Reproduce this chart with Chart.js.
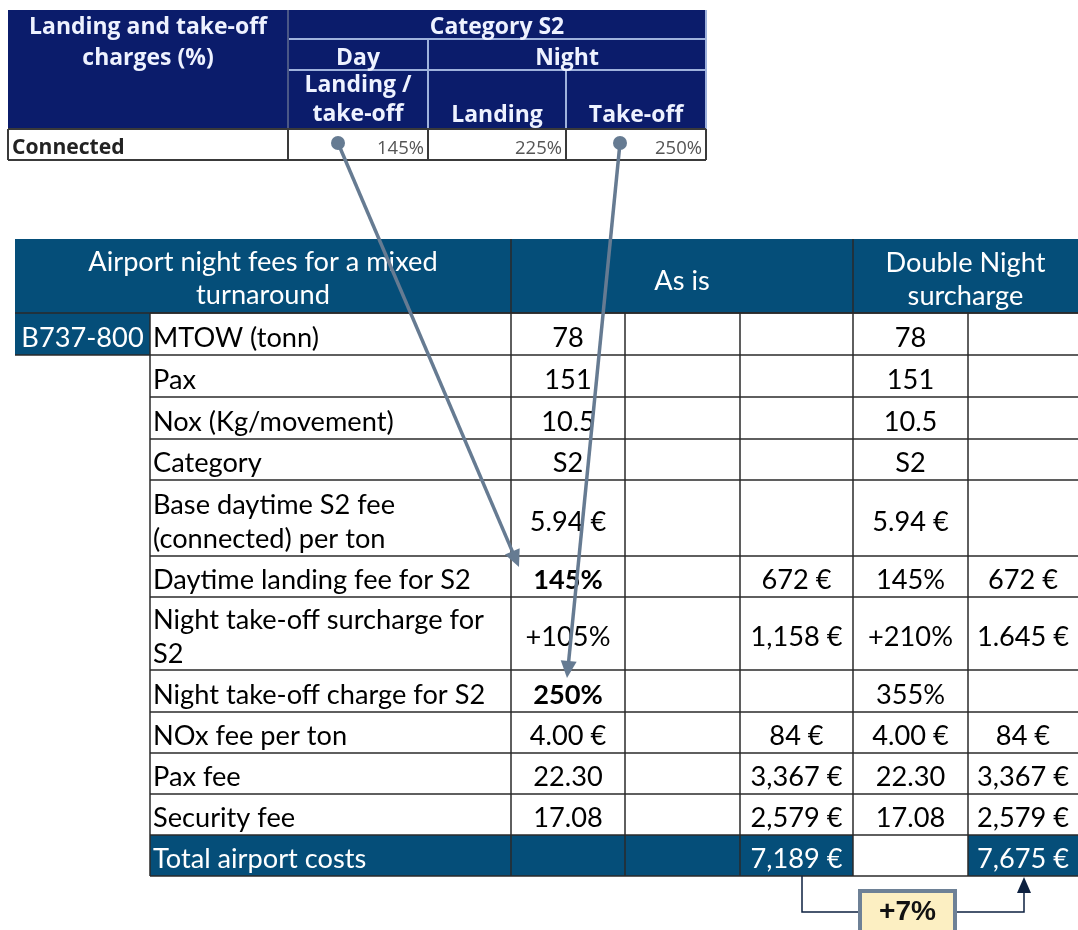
<!DOCTYPE html>
<html>
<head>
<meta charset="utf-8">
<title>Airport night fees for a mixed turnaround</title>
<script src="https://cdn.jsdelivr.net/npm/chart.js@4.4.1/dist/chart.umd.min.js"></script>
<style>
  html, body { margin: 0; padding: 0; background: #fff; }
  #wrap { width: 1078px; height: 930px; }
</style>
</head>
<body>
<div id="wrap"><canvas id="myChart" width="1078" height="930"></canvas></div>
<script>
// ---- data: small charge table ----
const chargeTitle = ['Landing and take-off', 'charges (%)'];
const chargeGroup = 'Category S2';
const chargePeriods = ['Day', 'Night'];
const chargeMovements = [['Landing /', 'take-off'], ['Landing'], ['Take-off']];
const chargeRowLabel = 'Connected';
const chargeValues = [145, 225, 250];

// ---- data: main table ----
const mainTitle = ['Airport night fees for a mixed', 'turnaround'];
const scenarios = [['As is'], ['Double Night', 'surcharge']];
const aircraft = 'B737-800';
const rowLabels = [
  ['MTOW (tonn)'],
  ['Pax'],
  ['Nox (Kg/movement)'],
  ['Category'],
  ['Base daytime S2 fee', '(connected) per ton'],
  ['Daytime landing fee for S2'],
  ['Night take-off surcharge for', 'S2'],
  ['Night take-off charge for S2'],
  ['NOx fee per ton'],
  ['Pax fee'],
  ['Security fee']
];
const asIsInputs   = ['78', '151', '10.5', 'S2', '5.94 €', '145%', '+105%', '250%', '4.00 €', '22.30', '17.08'];
const asIsCosts    = ['', '', '', '', '', '672 €', '1,158 €', '', '84 €', '3,367 €', '2,579 €'];
const doubleInputs = ['78', '151', '10.5', 'S2', '5.94 €', '145%', '+210%', '355%', '4.00 €', '22.30', '17.08'];
const doubleCosts  = ['', '', '', '', '', '672 €', '1.645 €', '', '84 €', '3,367 €', '2,579 €'];
const totalLabel = 'Total airport costs';
const totals = ['7,189 €', '7,675 €'];
const totalChange = '+7%';
const boldAsIsRows = [5, 7];

// ---- layout ----
const topCols = [8, 288, 428, 566, 706];
const topRows = [10, 39, 70, 129, 160];
const mainCols = [15, 150, 511, 625, 740, 853, 968, 1078];
const headTop = 239;
const rowEdges = [313, 355, 397, 439, 480, 556, 597, 670, 712, 753, 794, 835, 876];
const arrowLinks = [
  { from: [338, 143], to: [519, 567] },
  { from: [620, 143], to: [567, 678] }
];
const connector = { x0: 802, x1: 1024, y: 912, box: [860, 891, 955, 940] };

const navyTop = '#0b1c6b';
const blueMain = '#054e79';
const arrowColor = '#667b92';
const lineColor = '#2a2a2a';

function fitSize(ctx, weight, family, sample, target) {
  ctx.font = weight + ' 100px ' + family;
  return 100 * target / ctx.measureText(sample).width;
}

function lines(ctx, arr, x, yc, lh, align) {
  ctx.textAlign = align;
  ctx.textBaseline = 'middle';
  const start = yc - (arr.length - 1) * lh / 2;
  arr.forEach((t, i) => ctx.fillText(t, x, start + i * lh));
}

function seg(ctx, X, Y, x0, y0, x1, y1) {
  ctx.beginPath();
  ctx.moveTo(X(x0), Y(y0));
  ctx.lineTo(X(x1), Y(y1));
  ctx.stroke();
}

function arrowBase(link, len) {
  const dx = link.to[0] - link.from[0], dy = link.to[1] - link.from[1];
  const d = Math.hypot(dx, dy);
  return [link.to[0] - dx / d * len, link.to[1] - dy / d * len];
}

const tablePlugin = {
  id: 'tables',
  beforeDatasetsDraw(chart) {
    const ctx = chart.ctx;
    const X = v => chart.scales.x.getPixelForValue(v);
    const Y = v => chart.scales.y.getPixelForValue(v);
    ctx.save();

    // ---------- small charge table ----------
    const hs = fitSize(ctx, '700', '"Open Sans"', chargeTitle[0], 238);
    ctx.fillStyle = navyTop;
    ctx.fillRect(X(topCols[0]), Y(topRows[0]), X(topCols[4]) - X(topCols[0]), Y(topRows[3]) - Y(topRows[0]));
    ctx.strokeStyle = '#9fb2dc';
    ctx.lineWidth = 2;
    seg(ctx, X, Y, topCols[1], topRows[1], topCols[4], topRows[1]);
    seg(ctx, X, Y, topCols[1], topRows[2], topCols[4], topRows[2]);
    seg(ctx, X, Y, topCols[2], topRows[1], topCols[2], topRows[3]);
    seg(ctx, X, Y, topCols[3], topRows[2], topCols[3], topRows[3]);
    seg(ctx, X, Y, topCols[4], topRows[0], topCols[4], topRows[3]);
    ctx.strokeStyle = '#4a5786';
    seg(ctx, X, Y, topCols[1], topRows[0], topCols[1], topRows[3]);

    ctx.fillStyle = '#eef2ff';
    ctx.font = '700 ' + hs + 'px "Open Sans"';
    lines(ctx, chargeTitle, X((topCols[0] + topCols[1]) / 2), Y(43), 31, 'center');
    lines(ctx, [chargeGroup], X((topCols[1] + topCols[4]) / 2), Y(27), 30, 'center');
    lines(ctx, [chargePeriods[0]], X((topCols[1] + topCols[2]) / 2), Y(58), 30, 'center');
    lines(ctx, [chargePeriods[1]], X((topCols[2] + topCols[4]) / 2), Y(58), 30, 'center');
    chargeMovements.forEach((m, i) => {
      const yc = m.length > 1 ? 100 : 115;
      lines(ctx, m, X((topCols[i + 1] + topCols[i + 2]) / 2), Y(yc), 29, 'center');
    });

    // connected row
    ctx.strokeStyle = '#3a3a3a';
    ctx.lineWidth = 2;
    seg(ctx, X, Y, topCols[0], topRows[3], topCols[4], topRows[3]);
    seg(ctx, X, Y, topCols[0], topRows[4], topCols[4], topRows[4]);
    topCols.forEach(c => seg(ctx, X, Y, c, topRows[3], c, topRows[4]));
    ctx.fillStyle = '#222';
    ctx.font = '700 ' + (hs * 0.92) + 'px "Open Sans"';
    lines(ctx, [chargeRowLabel], X(topCols[0] + 4), Y(148), 20, 'left');
    const vs = fitSize(ctx, '400', '"Open Sans"', '225%', 47);
    ctx.font = '400 ' + vs + 'px "Open Sans"';
    ctx.fillStyle = '#555';
    chargeValues.forEach((v, i) => {
      lines(ctx, [v + '%'], X(topCols[i + 2] - 4), Y(149), 20, 'right');
    });

    // ---------- main table ----------
    const fs = fitSize(ctx, '400', 'Lato', 'Night take-off surcharge for', 331);
    const fontN = '400 ' + fs + 'px Lato';
    const fontB = '700 ' + fs + 'px Lato';
    const lh = 34;
    const last = rowEdges.length - 1;

    // header
    ctx.fillStyle = blueMain;
    ctx.fillRect(X(mainCols[0]), Y(headTop), X(mainCols[7]) - X(mainCols[0]), Y(rowEdges[0]) - Y(headTop));
    // aircraft cell
    ctx.fillRect(X(mainCols[0]), Y(rowEdges[0]), X(mainCols[1]) - X(mainCols[0]), Y(rowEdges[1]) - Y(rowEdges[0]));
    // total row
    ctx.fillRect(X(mainCols[1]), Y(rowEdges[last - 1]), X(mainCols[5]) - X(mainCols[1]), Y(rowEdges[last]) - Y(rowEdges[last - 1]));
    ctx.fillRect(X(mainCols[6]), Y(rowEdges[last - 1]), X(mainCols[7]) - X(mainCols[6]), Y(rowEdges[last]) - Y(rowEdges[last - 1]));

    // grid
    ctx.strokeStyle = lineColor;
    ctx.lineWidth = 1.5;
    seg(ctx, X, Y, mainCols[2], headTop, mainCols[2], rowEdges[0]);
    seg(ctx, X, Y, mainCols[5], headTop, mainCols[5], rowEdges[0]);
    seg(ctx, X, Y, mainCols[0], rowEdges[0], mainCols[7], rowEdges[0]);
    seg(ctx, X, Y, mainCols[0], rowEdges[1], mainCols[1], rowEdges[1]);
    for (let c = 1; c <= 6; c++) seg(ctx, X, Y, mainCols[c], rowEdges[0], mainCols[c], rowEdges[last]);
    rowEdges.forEach(r => seg(ctx, X, Y, mainCols[1], r, mainCols[7], r));

    // header text
    ctx.fillStyle = '#fff';
    ctx.font = fontN;
    lines(ctx, mainTitle, X((mainCols[0] + mainCols[2]) / 2), Y(279), 33, 'center');
    lines(ctx, scenarios[0], X((mainCols[2] + mainCols[5]) / 2), Y(281), 33, 'center');
    lines(ctx, scenarios[1], X((mainCols[5] + mainCols[7]) / 2), Y(280), 33, 'center');
    lines(ctx, [aircraft], X((mainCols[0] + mainCols[1]) / 2), Y(338), lh, 'center');

    // body
    const cols = [
      { vals: asIsInputs, c: 2 },
      { vals: asIsCosts, c: 4 },
      { vals: doubleInputs, c: 5 },
      { vals: doubleCosts, c: 6 }
    ];
    rowLabels.forEach((lab, i) => {
      const yc = (rowEdges[i] + rowEdges[i + 1]) / 2 + 4;
      ctx.fillStyle = '#000';
      ctx.font = fontN;
      lines(ctx, lab, X(mainCols[1] + 3), Y(yc), lh, 'left');
      cols.forEach(col => {
        const v = col.vals[i];
        if (!v) return;
        ctx.font = (col.c === 2 && boldAsIsRows.includes(i)) ? fontB : fontN;
        lines(ctx, [v], X((mainCols[col.c] + mainCols[col.c + 1]) / 2), Y(yc), lh, 'center');
      });
    });

    // total row
    const yt = (rowEdges[last - 1] + rowEdges[last]) / 2 + 4;
    ctx.fillStyle = '#fff';
    ctx.font = fontN;
    lines(ctx, [totalLabel], X(mainCols[1] + 3), Y(yt), lh, 'left');
    lines(ctx, [totals[0]], X((mainCols[4] + mainCols[5]) / 2), Y(yt), lh, 'center');
    lines(ctx, [totals[1]], X((mainCols[6] + mainCols[7]) / 2), Y(yt), lh, 'center');

    ctx.restore();
  },
  afterDatasetsDraw(chart) {
    const ctx = chart.ctx;
    const X = v => chart.scales.x.getPixelForValue(v);
    const Y = v => chart.scales.y.getPixelForValue(v);
    ctx.save();

    // arrow heads on the links
    ctx.fillStyle = arrowColor;
    arrowLinks.forEach(link => {
      const dx = link.to[0] - link.from[0], dy = link.to[1] - link.from[1];
      const d = Math.hypot(dx, dy);
      const ux = dx / d, uy = dy / d;
      const b = arrowBase(link, 17);
      ctx.beginPath();
      ctx.moveTo(X(link.to[0]), Y(link.to[1]));
      ctx.lineTo(X(b[0] - uy * 8), Y(b[1] + ux * 8));
      ctx.lineTo(X(b[0] + uy * 8), Y(b[1] - ux * 8));
      ctx.closePath();
      ctx.fill();
    });

    // connector arrow head
    ctx.fillStyle = '#0d2140';
    ctx.beginPath();
    ctx.moveTo(X(connector.x1), Y(rowEdges[rowEdges.length - 1] + 1));
    ctx.lineTo(X(connector.x1 - 7), Y(893));
    ctx.lineTo(X(connector.x1 + 7), Y(893));
    ctx.closePath();
    ctx.fill();

    // change box
    const bx = connector.box;
    ctx.fillStyle = '#fcefc2';
    ctx.fillRect(X(bx[0]), Y(bx[1]), X(bx[2]) - X(bx[0]), Y(bx[3]) - Y(bx[1]));
    ctx.strokeStyle = '#6e8196';
    ctx.lineWidth = 4;
    ctx.strokeRect(X(bx[0]), Y(bx[1]), X(bx[2]) - X(bx[0]), Y(bx[3]) - Y(bx[1]));
    const ps = fitSize(ctx, '700', '"Liberation Sans"', totalChange, 57);
    ctx.font = '700 ' + ps + 'px "Liberation Sans"';
    ctx.fillStyle = '#111';
    lines(ctx, [totalChange], X((bx[0] + bx[2]) / 2), Y(912), 30, 'center');

    ctx.restore();
  }
};

const linkSets = arrowLinks.map(link => {
  const b = arrowBase(link, 14);
  return {
    data: [{ x: link.from[0], y: link.from[1] }, { x: b[0], y: b[1] }],
    showLine: true,
    borderColor: arrowColor,
    borderWidth: 3.5,
    pointRadius: [7, 0],
    pointBackgroundColor: arrowColor,
    pointBorderWidth: 0
  };
});

const connectorSet = {
  data: [
    { x: connector.x0, y: rowEdges[rowEdges.length - 1] },
    { x: connector.x0, y: connector.y },
    { x: connector.x1, y: connector.y },
    { x: connector.x1, y: 893 }
  ],
  showLine: true,
  borderColor: '#0d2140',
  borderWidth: 1.5,
  pointRadius: 0
};

const ctx = document.getElementById('myChart').getContext('2d');
const myChart = new Chart(ctx, {
  type: 'scatter',
  data: { datasets: [connectorSet].concat(linkSets) },
  options: {
    responsive: false,
    animation: false,
    events: [],
    layout: { padding: 0, autoPadding: false },
    plugins: { legend: { display: false }, tooltip: { enabled: false } },
    scales: {
      x: { type: 'linear', min: 0, max: 1078, display: false },
      y: { type: 'linear', min: 0, max: 930, reverse: true, display: false }
    }
  },
  plugins: [tablePlugin]
});
</script>
</body>
</html>
